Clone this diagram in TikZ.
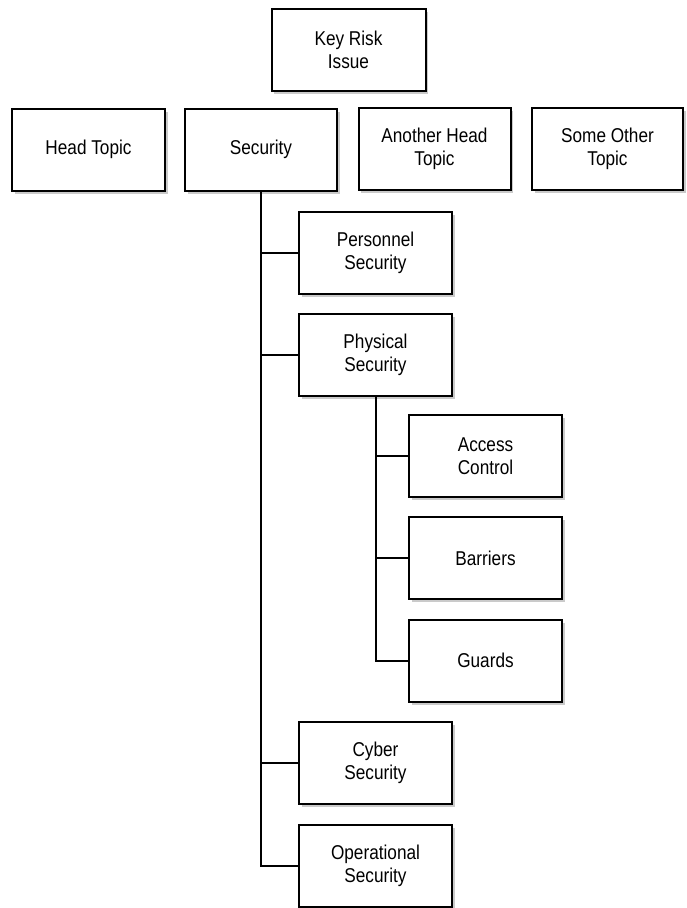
\documentclass[tikz,border=0pt]{standalone}
\usepackage{fontspec}
\setmainfont{Liberation Sans}[FakeStretch=0.86]
\usetikzlibrary{shadows}
\begin{document}
\begin{tikzpicture}[x=1pt,y=-1pt,
  box/.style={draw=black, line width=2pt, fill=white, rectangle, align=center,
    minimum height=82pt, inner sep=2pt,
    font=\fontsize{20}{23}\selectfont,
    drop shadow={shadow xshift=2.5pt, shadow yshift=-3pt, opacity=0.35, fill=black!60}},
  topbox/.style={box, minimum width=152pt},
  subbox/.style={box, minimum width=153pt},
  conn/.style={draw=black, line width=2pt}]
\useasboundingbox (0,0) rectangle (687,908);
\node[topbox, minimum width=154pt] (key) at (348.5,49.5) {Key Risk\\Issue};
\node[topbox, minimum width=153pt] (head) at (88.5,149.5) {Head Topic};
\node[topbox] (sec) at (261,149.5) {Security};
\node[topbox] (another) at (434.5,148.5) {Another Head\\Topic};
\node[topbox, minimum width=151pt] (other) at (607.5,148.5) {Some Other\\Topic};
\node[subbox] (pers) at (375.5,253) {Personnel\\Security};
\node[subbox] (phys) at (375.5,354.5) {Physical\\Security};
\node[subbox] (access) at (485.5,456) {Access\\Control};
\node[subbox] (barr) at (485.5,558) {Barriers};
\node[subbox] (guards) at (485.5,660.5) {Guards};
\node[subbox] (cyber) at (375.5,763) {Cyber\\Security};
\node[subbox] (oper) at (375.5,865.5) {Operational\\Security};
\draw[conn] (sec.south) |- (pers.west);
\draw[conn] (sec.south) |- (phys.west);
\draw[conn] (sec.south) |- (cyber.west);
\draw[conn] (sec.south) |- (oper.west);
\draw[conn] (phys.south) |- (access.west);
\draw[conn] (phys.south) |- (barr.west);
\draw[conn] (phys.south) |- (guards.west);
\end{tikzpicture}
\end{document}
